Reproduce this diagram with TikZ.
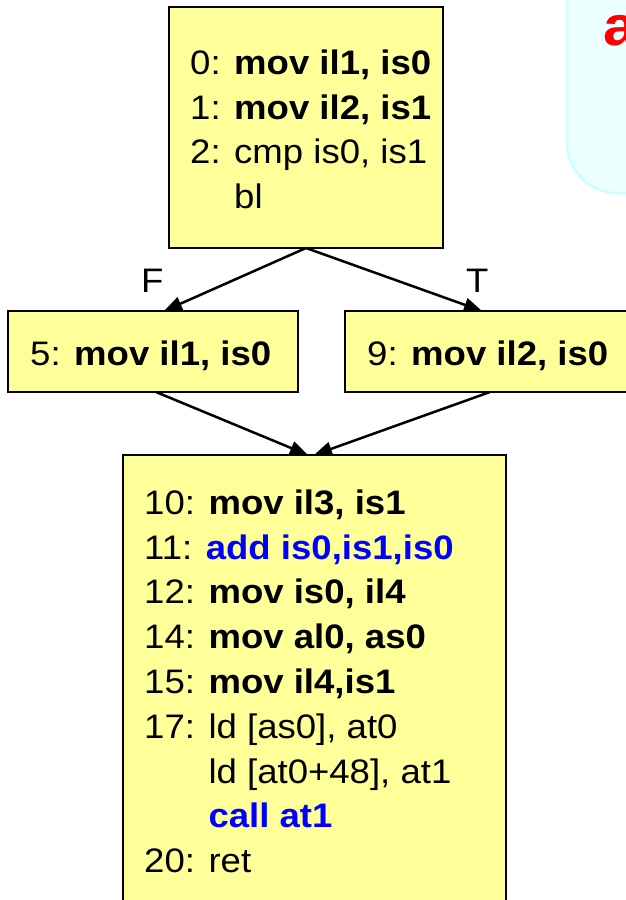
\documentclass[tikz,border=0pt]{standalone}
\usepackage{fontspec}
\setmainfont[FakeStretch=1.075]{Liberation Sans}
\usetikzlibrary{arrows.meta}
\definecolor{boxyellow}{HTML}{FFFF99}
\definecolor{cyanfill}{HTML}{EBFFFF}
\definecolor{cyanline}{HTML}{CCFFFF}
\definecolor{codeblue}{HTML}{0000FF}
\begin{document}
\begin{tikzpicture}[x=1pt,y=-1pt,
  blockbox/.style={draw=black, line width=2.5pt, fill=boxyellow, inner sep=0pt, outer sep=0pt, anchor=north west},
  codeline/.style={anchor=base west, inner sep=0pt, font=\fontsize{34}{44}\selectfont},
  flow/.style={line width=2.5pt, -{Triangle[length=18pt,width=14pt]}}]
\useasboundingbox (0,0) rectangle (626,900);
\begin{scope}
\clip (0,0) rectangle (626,900);
% partial cyan note box
\draw[draw=cyanline, fill=cyanfill, line width=2.5pt, rounded corners=50pt] (567,-80) rectangle (760,193);
\node[anchor=base west, inner sep=0pt, text=red, font=\fontsize{56}{60}\selectfont\bfseries] (ahead) at (603,45) {a};
% blocks
\node[blockbox, minimum width=274pt, minimum height=241pt] (b0) at (169,7) {};
\node[blockbox, minimum width=290pt, minimum height=81pt] (b5) at (8,311) {};
\node[blockbox, minimum width=320pt, minimum height=81pt] (b9) at (345,311) {};
\node[blockbox, minimum width=383pt, minimum height=520pt] (b10) at (123,455) {};
% texts top block
\node[codeline] (t0) at (190,74) {0: \textbf{mov il1, is0}};
\node[codeline] (t1) at (190,119) {1: \textbf{mov il2, is1}};
\node[codeline] (t2) at (190,163) {2: cmp is0, is1};
\node[codeline] (t3) at (190,208) {\phantom{2: }bl};
% side blocks
\node[codeline] (t5) at (30,365) {5: \textbf{mov il1, is0}};
\node[codeline] (t9) at (367,365) {9: \textbf{mov il2, is0}};
% bottom block
\node[codeline] (t10) at (144,514) {10: \textbf{mov il3, is1}};
\node[codeline] (t11) at (144,559) {11: \textcolor{codeblue}{\textbf{add is0,is1,is0}}};
\node[codeline] (t12) at (144,603) {12: \textbf{mov is0, il4}};
\node[codeline] (t14) at (144,648) {14: \textbf{mov al0, as0}};
\node[codeline] (t15) at (144,693) {15: \textbf{mov il4,is1}};
\node[codeline] (t17) at (144,738) {17: ld [as0], at0};
\node[codeline] (t18) at (144,783) {\phantom{17: }ld [at0+48], at1};
\node[codeline] (t19) at (144,827) {\phantom{17: }\textcolor{codeblue}{\textbf{call at1}}};
\node[codeline] (t20) at (144,872) {20: ret};
% edge labels
\node[codeline] (lf) at (141,292) {F};
\node[codeline] (lt) at (466,292) {T};
% connectors
\coordinate (fin) at (164,311);
\coordinate (tin) at (482,311);
\coordinate (fout) at (156,392);
\coordinate (tout) at (490,392);
\coordinate (jinl) at (308,455);
\coordinate (jinr) at (314,455);
\draw[flow] (b0.south) -- (fin);
\draw[flow] (b0.south) -- (tin);
\draw[flow] (fout) -- (jinl);
\draw[flow] (tout) -- (jinr);
\end{scope}
\end{tikzpicture}
\end{document}
